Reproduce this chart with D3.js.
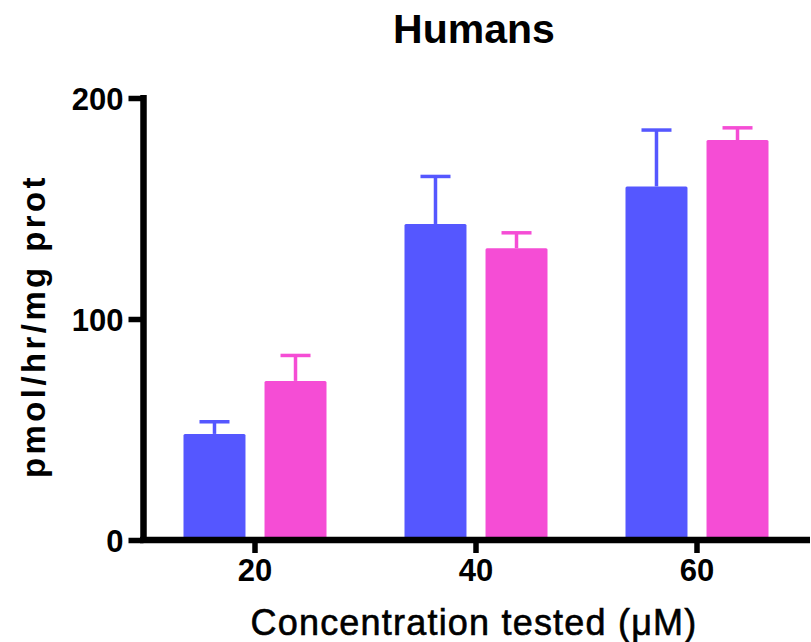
<!DOCTYPE html>
<html>
<head>
<meta charset="utf-8">
<script src="https://cdn.jsdelivr.net/npm/d3@7"></script>
<style>
  html, body { margin: 0; padding: 0; background: #fff; }
  svg { display: block; }
  text { font-family: "Liberation Sans", Arial, sans-serif; fill: #000; }
</style>
</head>
<body>
<svg id="chart" width="811" height="642"></svg>
<script>
// Concentration groups and the two series drawn for each
const categories = ["20", "40", "60"];
const seriesNames = ["A", "B"];
const seriesColors = ["#5557FF", "#F54DD5"];
// Mean activity (pmol/hr/mg prot) per concentration
const meanA = [48, 143, 160];
const meanB = [72, 132, 181];
// Upper error (SEM) above each mean
const errA = [5.5, 21.5, 25.5];
const errB = [11.5, 7, 5.5];
const yTicks = [0, 100, 200];

const svg = d3.select("#chart");

const y = d3.scaleLinear().domain([0, 200]).range([540, 98]);
const x = d3.scaleBand().domain(categories).range([144.5, 807.5]).padding(0);
const xSub = d3.scaleBand().domain(seriesNames).range([-71.5, 71.5]).paddingInner(0.235).paddingOuter(0);

const rows = categories.map((c, i) => ({
  cat: c,
  vals: [
    { s: "A", mean: meanA[i], err: errA[i], color: seriesColors[0] },
    { s: "B", mean: meanB[i], err: errB[i], color: seriesColors[1] }
  ]
}));

// Bars and error bars
const groups = svg.append("g").selectAll("g").data(rows).join("g")
  .attr("transform", d => `translate(${x(d.cat) + x.bandwidth() / 2},0)`);

const items = groups.selectAll("g").data(d => d.vals).join("g");

items.append("line")
  .attr("x1", d => xSub(d.s) + xSub.bandwidth() / 2)
  .attr("x2", d => xSub(d.s) + xSub.bandwidth() / 2)
  .attr("y1", d => y(d.mean))
  .attr("y2", d => y(d.mean + d.err))
  .attr("stroke", d => d.color)
  .attr("stroke-width", 3.5);

items.append("line")
  .attr("x1", d => xSub(d.s) + xSub.bandwidth() / 2 - 15)
  .attr("x2", d => xSub(d.s) + xSub.bandwidth() / 2 + 15)
  .attr("y1", d => y(d.mean + d.err))
  .attr("y2", d => y(d.mean + d.err))
  .attr("stroke", d => d.color)
  .attr("stroke-width", 3.5);

items.append("rect")
  .attr("x", d => xSub(d.s))
  .attr("width", xSub.bandwidth())
  .attr("y", d => y(d.mean))
  .attr("height", d => y(0) - y(d.mean))
  .attr("rx", 1.5)
  .attr("fill", d => d.color);

// Y axis
const yAxis = svg.append("g")
  .attr("transform", "translate(143.5,0)")
  .call(d3.axisLeft(y).tickValues(yTicks).tickSize(15).tickPadding(5).tickSizeOuter(0));
yAxis.select(".domain").attr("stroke", "#000").attr("stroke-width", 6.5)
  .attr("d", `M0,${y(200) - 3}V${y(0) + 3}`);
yAxis.selectAll(".tick line").attr("stroke", "#000").attr("stroke-width", 5.5);
yAxis.selectAll(".tick text")
  .style("font-size", "31px").style("font-weight", "bold")
  .attr("dy", "0.36em");

// X axis
const xAxis = svg.append("g")
  .attr("transform", `translate(0,${y(0)})`)
  .call(d3.axisBottom(x).tickSize(13).tickPadding(6).tickSizeOuter(0));
xAxis.select(".domain").attr("stroke", "#000").attr("stroke-width", 6.5)
  .attr("d", "M140,0H810");
xAxis.selectAll(".tick line").attr("stroke", "#000").attr("stroke-width", 5.5);
xAxis.selectAll(".tick text")
  .style("font-size", "31px").style("font-weight", "bold");

// Title
svg.append("text")
  .attr("x", 474).attr("y", 43)
  .attr("text-anchor", "middle")
  .style("font-size", "41px").style("font-weight", "bold")
  .text("Humans");

// Axis titles
svg.append("text")
  .attr("x", 474).attr("y", 635)
  .attr("text-anchor", "middle")
  .style("font-size", "36px")
  .style("letter-spacing", "1.2px")
  .attr("stroke", "#000").attr("stroke-width", 0.6)
  .text("Concentration tested (μM)");

svg.append("text")
  .attr("transform", "translate(45,326) rotate(-90)")
  .attr("text-anchor", "middle")
  .style("font-size", "33px").style("font-weight", "bold")
  .style("letter-spacing", "3.4px")
  .text("pmol/hr/mg prot");
</script>
</body>
</html>
